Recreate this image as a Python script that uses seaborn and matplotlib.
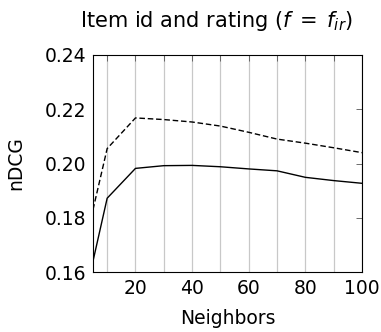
import matplotlib
matplotlib.use("Agg")
import matplotlib.pyplot as plt
import seaborn as sns
import pandas as pd
import numpy as np

neighbors = [5, 10, 20, 30, 40, 50, 60, 70, 80, 90, 100]
solid_vals = [0.164, 0.1872, 0.1982, 0.1992, 0.1993, 0.1988, 0.1980, 0.1973, 0.1949, 0.1937, 0.1927]
dashed_vals = [0.183, 0.2055, 0.2168, 0.2162, 0.2153, 0.2138, 0.2115, 0.2090, 0.2075, 0.2058, 0.2040]

sns.set_theme(style="white")
plt.rcParams['font.family'] = ['DejaVu Sans']
plt.rcParams['mathtext.fontset'] = 'dejavusans'
plt.rcParams['text.color'] = 'black'
plt.rcParams['axes.labelcolor'] = 'black'
plt.rcParams['xtick.labelcolor'] = 'black'
plt.rcParams['ytick.labelcolor'] = 'black'

df = pd.DataFrame({
    "Neighbors": neighbors * 2,
    "nDCG": solid_vals + dashed_vals,
    "series": ["a"] * len(neighbors) + ["b"] * len(neighbors),
})

fig = plt.figure(figsize=(3.81, 3.32), dpi=100)
ax = fig.add_axes([93/381, 1 - 272/332, (362-93)/381, (272-55)/332])
sns.lineplot(data=df, x="Neighbors", y="nDCG", hue="series", style="series",
             palette=["black", "black"], dashes=[(None, None), (4, 2)],
             linewidth=1.0, legend=False, ax=ax)

ax.set_xlim(5, 100)
ax.set_ylim(0.16, 0.24)
ax.set_xticks([20, 40, 60, 80, 100])
ax.set_xticks(np.arange(10, 100, 10), minor=True)
ax.set_yticks([0.16, 0.18, 0.20, 0.22, 0.24])
ax.set_yticklabels(["0.16", "0.18", "0.20", "0.22", "0.24"])
ax.grid(True, axis="x", which="both", color="#c8c8c8", linewidth=0.9)
ax.grid(False, axis="y")
ax.tick_params(axis="both", which="both", direction="in", top=True, right=True,
               length=4, width=0.6, color="#555555", labelsize=13.5, pad=5)
ax.tick_params(axis="x", which="minor", length=4)
for s in ax.spines.values():
    s.set_color("black")
    s.set_linewidth(0.8)
ax.set_xlabel("Neighbors", fontsize=13.5, labelpad=8)
ax.set_ylabel("nDCG", fontsize=13.5, labelpad=14)
ax.set_title("Item id and rating ($f\\;=\\;f_{ir}$)", fontsize=15, pad=20, x=0.46)

fig.savefig("out.png", dpi=100)
